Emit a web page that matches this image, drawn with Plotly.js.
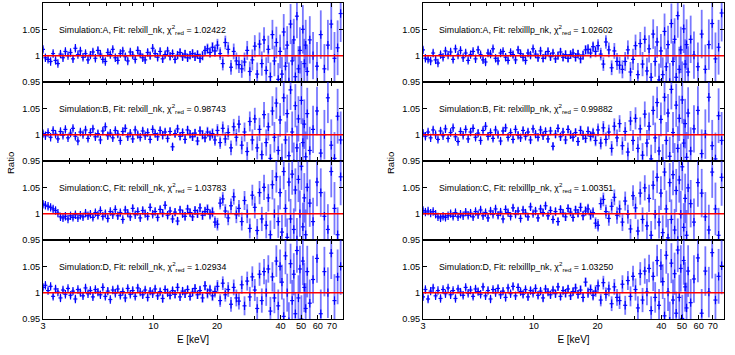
<!DOCTYPE html>
<html>
<head>
<meta charset="utf-8">
<script src="https://cdn.plot.ly/plotly-3.0.1.min.js"></script>
<style>
  body { margin: 0; background: #fff; }
  #chart { width: 735px; height: 355px; }
</style>
</head>
<body>
<div id="chart"></div>
<script>
// bin centre energies (keV), shared by all panels
var energy = [
  3.00, 3.08, 3.17, 3.26, 3.35, 3.44, 3.53, 3.63, 3.73, 3.83,
  3.94, 4.05, 4.16, 4.27, 4.39, 4.51, 4.64, 4.77, 4.90, 5.03,
  5.17, 5.31, 5.46, 5.61, 5.76, 5.92, 6.08, 6.25, 6.42, 6.60,
  6.78, 6.97, 7.16, 7.36, 7.56, 7.77, 7.98, 8.20, 8.43, 8.66,
  8.90, 9.14, 9.39, 9.65, 9.92, 10.19, 10.47, 10.76, 11.06, 11.36,
  11.67, 11.99, 12.32, 12.66, 13.01, 13.37, 13.74, 14.12, 14.51, 14.91,
  15.32, 15.74, 16.17, 16.62, 17.08, 17.55, 18.03, 18.53, 19.04, 19.56,
  20.1, 20.7, 21.3, 21.9, 22.6, 23.3, 24.0, 24.7,
  25.4, 26.2, 27.0, 27.8, 28.6, 29.4,
  30.2, 31.0, 31.8, 32.6, 33.4, 34.2,
  35.0, 35.8, 36.6, 37.4, 38.2, 39.0, 39.8,
  40.6, 41.4, 42.2, 43.0, 43.8, 44.6, 45.4, 46.2,
  47.0, 47.8, 48.6, 49.4, 50.2, 51.0, 51.8, 52.6, 53.5,
  55.0, 57.0, 59.5, 62.0, 64.5, 67.0, 69.5, 72.0, 74.5, 77.0
];

// 1-sigma error on the ratio
var ratioErr = [
  0.005, 0.005, 0.005, 0.004, 0.005, 0.005, 0.004, 0.005, 0.005, 0.005,
  0.004, 0.005, 0.005, 0.005, 0.004, 0.005, 0.005, 0.005, 0.005, 0.005,
  0.005, 0.005, 0.006, 0.005, 0.005, 0.005, 0.006, 0.005, 0.005, 0.005,
  0.006, 0.005, 0.005, 0.006, 0.005, 0.005, 0.006, 0.005, 0.006, 0.005,
  0.006, 0.005, 0.006, 0.006, 0.005, 0.006, 0.006, 0.006, 0.007, 0.006,
  0.006, 0.007, 0.006, 0.007, 0.007, 0.007, 0.007, 0.008, 0.007, 0.008,
  0.008, 0.008, 0.008, 0.009, 0.009, 0.009, 0.010, 0.010, 0.010, 0.011,
  0.012, 0.012, 0.013, 0.013, 0.014, 0.014, 0.015, 0.016,
  0.016, 0.017, 0.018, 0.018, 0.019, 0.020,
  0.021, 0.022, 0.022, 0.023, 0.024, 0.025,
  0.026, 0.027, 0.028, 0.029, 0.030, 0.031, 0.032,
  0.033, 0.034, 0.035, 0.036, 0.037, 0.038, 0.039, 0.040,
  0.041, 0.042, 0.043, 0.044, 0.045, 0.046, 0.047, 0.048, 0.049,
  0.045, 0.045, 0.046, 0.046, 0.047, 0.048, 0.049, 0.050, 0.052, 0.054
];

// data / model ratios, one array per panel
var ratioA_relxill = [
  1.012, 0.996, 0.993, 0.989, 1.004, 0.991, 0.985, 1.003, 0.996, 1.008,
  1.000, 1.006, 0.994, 1.014, 1.002, 1.009, 0.997, 1.004, 0.992, 1.001,
  1.007, 0.995, 1.010, 1.003, 0.993, 0.989, 1.006, 1.002, 1.012, 0.996,
  0.991, 1.004, 1.009, 0.998, 0.990, 1.007, 1.001, 0.993, 1.010, 1.003,
  0.996, 0.992, 1.006, 1.000, 1.014, 1.004, 0.997, 1.008, 0.994, 1.002,
  1.009, 0.999, 1.004, 0.993, 1.001, 1.006, 0.998, 1.003, 0.996, 1.001,
  1.004, 0.998, 1.002, 0.995, 1.000, 1.010, 1.013, 1.006, 1.016, 1.009,
  1.020, 1.004, 0.985, 1.025, 1.012, 0.978, 1.008, 0.990,
  0.983, 0.975, 0.988, 1.010, 0.970, 0.992,
  1.018, 0.965, 1.022, 0.985, 1.030, 0.972,
  1.012, 0.960, 1.040, 0.990, 1.025, 0.955, 1.008,
  0.965, 1.045, 0.980, 1.020, 0.950, 1.060, 0.990, 1.030,
  0.960, 1.075, 0.975, 1.010, 0.945, 1.050, 0.985, 1.020, 0.970,
  1.030, 1.000, 0.980, 1.040, 0.975, 1.020, 1.060, 0.995, 1.015, 1.080
];
var ratioB_relxill = [
  1.002, 0.998, 1.004, 0.995, 1.008, 1.001, 0.992, 1.006, 0.999, 1.010,
  0.994, 1.003, 1.012, 0.997, 0.988, 1.005, 1.000, 1.009, 0.993, 1.004,
  1.011, 0.996, 1.002, 0.990, 1.007, 1.015, 0.998, 1.003, 0.994, 1.008,
  1.001, 0.989, 1.006, 1.012, 0.996, 1.003, 0.992, 1.009, 1.000, 0.995,
  1.007, 0.998, 1.004, 0.991, 1.010, 1.002, 0.996, 1.008, 0.999, 1.005,
  0.993, 1.006, 0.977, 1.002, 1.011, 0.997, 1.004, 0.991, 1.009, 1.001,
  0.996, 1.003, 0.988, 1.007, 1.000, 0.994, 1.005, 0.998, 1.002, 0.990,
  1.008, 0.985, 1.012, 0.992, 1.004, 0.975, 1.015, 0.995,
  1.020, 0.980, 1.005, 0.968, 1.025, 0.990,
  1.030, 0.975, 1.010, 0.962, 1.038, 0.985,
  1.015, 0.955, 1.045, 0.995, 1.060, 0.970, 1.028,
  0.950, 1.070, 0.990, 1.040, 0.960, 1.085, 1.005, 0.945,
  1.055, 0.975, 1.030, 0.940, 1.065, 0.985, 1.020, 0.958, 1.040,
  0.970, 1.010, 1.045, 0.965, 1.000, 1.070, 0.980, 0.955, 1.035, 0.990
];
var ratioC_relxill = [
  1.018, 1.016, 1.014, 1.012, 1.009, 1.006, 1.001, 0.994, 0.992, 0.995,
  0.990, 0.996, 0.993, 0.998, 0.992, 0.997, 0.994, 1.001, 0.996, 0.999,
  0.993, 1.002, 0.997, 1.006, 0.995, 1.000, 0.991, 1.004, 0.998, 1.008,
  0.996, 1.002, 0.989, 1.007, 1.001, 0.994, 1.010, 0.998, 1.004, 0.992,
  1.006, 1.000, 0.995, 1.012, 0.999, 1.004, 0.993, 1.008, 1.001, 1.016,
  0.997, 1.005, 0.990, 1.003, 0.986, 1.007, 1.000, 0.995, 1.009, 1.002,
  0.994, 1.006, 1.000, 1.011, 0.997, 1.004, 1.008, 0.999, 1.003, 0.984,
  0.980, 1.020, 1.028, 1.005, 0.992, 1.015, 1.032, 0.998,
  1.010, 0.985, 1.025, 1.000, 0.972, 1.035,
  1.012, 0.968, 1.040, 0.990, 1.050, 0.978,
  1.030, 0.960, 1.055, 1.000, 1.070, 0.985, 1.040,
  0.965, 1.080, 1.010, 0.955, 1.060, 0.990, 1.075, 0.970,
  1.045, 0.950, 1.065, 1.000, 1.090, 0.975, 1.030, 0.960, 1.050,
  1.020, 0.985, 1.060, 1.040, 0.995, 0.970, 1.080, 1.010, 0.960, 1.070
];
var ratioD_relxill = [
  1.010, 1.014, 1.004, 1.012, 0.993, 1.007, 1.001, 0.990, 1.005, 0.997,
  1.008, 0.995, 1.003, 0.988, 1.006, 1.000, 0.994, 1.009, 0.998, 1.004,
  0.992, 1.006, 1.001, 0.996, 1.010, 0.993, 1.003, 0.987, 1.005, 0.999,
  1.007, 0.995, 1.002, 0.990, 1.008, 0.997, 1.004, 0.993, 1.009, 1.001,
  0.996, 1.005, 0.991, 1.003, 0.998, 1.007, 0.994, 1.002, 0.989, 1.006,
  1.000, 0.995, 1.004, 0.997, 1.010, 0.992, 1.003, 0.998, 1.006, 0.993,
  1.001, 1.008, 0.996, 1.004, 0.990, 1.013, 0.999, 1.005, 0.994, 1.002,
  1.012, 0.985, 1.018, 0.996, 1.006, 0.978, 1.010, 0.990,
  0.984, 1.015, 0.975, 1.022, 0.992, 1.030,
  1.005, 0.970, 1.035, 0.985, 1.040, 1.000,
  1.045, 0.965, 1.030, 0.990, 1.060, 0.975, 1.050,
  1.020, 0.955, 1.070, 1.000, 0.945, 1.055, 0.985, 1.035,
  0.960, 1.080, 0.990, 1.045, 0.950, 1.060, 1.010, 0.970, 1.040,
  0.980, 1.025, 1.065, 0.960, 1.040, 1.000, 1.075, 0.985, 1.030, 1.050
];
var ratioA_relxilllp = [
  1.011, 0.995, 0.993, 0.990, 1.005, 0.992, 0.986, 1.002, 0.997, 1.009,
  1.001, 1.007, 0.993, 1.013, 1.001, 1.010, 0.996, 1.005, 0.991, 1.002,
  1.008, 0.994, 1.011, 1.002, 0.992, 0.988, 1.005, 1.003, 1.013, 0.995,
  0.990, 1.005, 1.008, 0.997, 0.991, 1.006, 1.002, 0.992, 1.011, 1.004,
  0.997, 0.991, 1.005, 1.001, 1.013, 1.003, 0.996, 1.009, 0.995, 1.001,
  1.008, 0.998, 1.005, 0.994, 1.000, 1.007, 0.997, 1.002, 0.995, 1.002,
  1.005, 0.997, 1.003, 0.994, 1.001, 1.011, 1.012, 1.005, 1.017, 1.008,
  1.019, 1.003, 0.984, 1.026, 1.011, 0.977, 1.009, 0.989,
  0.982, 0.974, 0.989, 1.011, 0.969, 0.993,
  1.019, 0.964, 1.023, 0.984, 1.031, 0.971,
  1.013, 0.959, 1.041, 0.989, 1.026, 0.954, 1.009,
  0.964, 1.046, 0.979, 1.021, 0.949, 1.061, 0.989, 1.031,
  0.959, 1.076, 0.974, 1.011, 0.944, 1.051, 0.984, 1.021, 0.969,
  1.031, 1.001, 0.979, 1.041, 0.974, 1.021, 1.061, 0.994, 1.016, 1.081
];
var ratioB_relxilllp = [
  1.003, 0.997, 1.005, 0.994, 1.009, 1.000, 0.991, 1.007, 0.998, 1.011,
  0.993, 1.004, 1.013, 0.996, 0.987, 1.006, 0.999, 1.010, 0.992, 1.005,
  1.012, 0.995, 1.003, 0.989, 1.008, 1.016, 0.997, 1.004, 0.993, 1.009,
  1.000, 0.988, 1.007, 1.013, 0.995, 1.004, 0.991, 1.010, 0.999, 0.994,
  1.008, 0.997, 1.005, 0.990, 1.011, 1.001, 0.995, 1.009, 0.998, 1.006,
  0.992, 1.007, 0.978, 1.001, 1.012, 0.996, 1.005, 0.990, 1.010, 1.000,
  0.995, 1.004, 0.987, 1.008, 0.999, 0.993, 1.006, 0.997, 1.003, 0.989,
  1.009, 0.984, 1.013, 0.991, 1.005, 0.974, 1.016, 0.994,
  1.021, 0.979, 1.006, 0.967, 1.026, 0.989,
  1.031, 0.974, 1.011, 0.961, 1.039, 0.984,
  1.016, 0.954, 1.046, 0.994, 1.061, 0.969, 1.029,
  0.949, 1.071, 0.989, 1.041, 0.959, 1.086, 1.004, 0.944,
  1.056, 0.974, 1.031, 0.939, 1.066, 0.984, 1.021, 0.957, 1.041,
  0.969, 1.011, 1.046, 0.964, 1.001, 1.071, 0.979, 0.954, 1.036, 0.989
];
var ratioC_relxilllp = [
  1.006, 1.003, 1.005, 1.001, 1.004, 0.999, 0.994, 0.992, 0.995, 0.993,
  0.996, 1.000, 0.995, 1.002, 0.994, 0.999, 0.996, 1.003, 0.997, 1.001,
  0.994, 1.004, 0.998, 1.007, 0.996, 1.002, 0.992, 1.005, 0.999, 1.009,
  0.997, 1.003, 0.990, 1.008, 1.002, 0.995, 1.011, 0.999, 1.005, 0.991,
  1.007, 1.001, 0.994, 1.013, 1.000, 1.005, 0.992, 1.009, 1.002, 1.015,
  0.996, 1.006, 0.989, 1.004, 0.985, 1.008, 1.001, 0.994, 1.010, 1.003,
  0.993, 1.007, 1.001, 1.012, 0.996, 1.005, 1.009, 0.998, 1.002, 0.982,
  0.978, 1.019, 1.027, 1.004, 0.991, 1.014, 1.031, 0.997,
  1.009, 0.984, 1.024, 0.999, 0.971, 1.034,
  1.011, 0.967, 1.039, 0.989, 1.049, 0.977,
  1.029, 0.959, 1.054, 0.999, 1.069, 0.984, 1.039,
  0.964, 1.079, 1.009, 0.954, 1.059, 0.989, 1.074, 0.969,
  1.044, 0.949, 1.064, 0.999, 1.089, 0.974, 1.029, 0.959, 1.049,
  1.019, 0.984, 1.059, 1.039, 0.994, 0.969, 1.079, 1.009, 0.959, 1.069
];
var ratioD_relxilllp = [
  0.992, 1.006, 0.988, 1.003, 1.009, 0.994, 1.004, 0.989, 1.006, 0.998,
  1.009, 0.996, 1.004, 0.989, 1.007, 1.001, 0.995, 1.010, 0.999, 1.005,
  0.993, 1.007, 1.002, 0.997, 1.011, 0.994, 1.004, 0.988, 1.006, 1.000,
  1.008, 0.996, 1.003, 0.991, 1.009, 0.998, 1.012, 0.994, 1.010, 1.002,
  0.997, 1.006, 0.992, 1.004, 0.999, 1.008, 0.995, 1.003, 0.990, 1.007,
  1.001, 0.996, 1.005, 0.998, 1.011, 0.993, 1.004, 0.999, 1.007, 0.994,
  1.002, 1.009, 0.997, 1.005, 0.991, 1.020, 1.000, 1.006, 0.995, 1.003,
  1.013, 0.986, 1.019, 0.997, 1.007, 0.979, 1.011, 0.991,
  0.985, 1.016, 0.976, 1.023, 0.993, 1.031,
  1.006, 0.971, 1.036, 0.986, 1.041, 1.001,
  1.046, 0.966, 1.031, 0.991, 1.061, 0.976, 1.051,
  1.021, 0.956, 1.071, 1.001, 0.946, 1.056, 0.986, 1.036,
  0.961, 1.081, 0.991, 1.046, 0.951, 1.061, 1.011, 0.971, 1.041,
  0.981, 1.026, 1.066, 0.961, 1.041, 1.001, 1.076, 0.986, 1.031, 1.051
];

var simNames = ['A', 'B', 'C', 'D'];
var chi2Relxill = ['1.02422', '0.98743', '1.03783', '1.02934'];
var chi2Relxilllp = ['1.02602', '0.99882', '1.00351', '1.03250'];

var xTickVals = [3, 10, 20, 40, 50, 60, 70];
var xMinorVals = [4, 5, 6, 7, 8, 9, 30];

var panels = [
  {y: ratioA_relxill, col: 0, row: 0, fit: 'relxill_nk', chi: chi2Relxill[0]},
  {y: ratioB_relxill, col: 0, row: 1, fit: 'relxill_nk', chi: chi2Relxill[1]},
  {y: ratioC_relxill, col: 0, row: 2, fit: 'relxill_nk', chi: chi2Relxill[2]},
  {y: ratioD_relxill, col: 0, row: 3, fit: 'relxill_nk', chi: chi2Relxill[3]},
  {y: ratioA_relxilllp, col: 1, row: 0, fit: 'relxilllp_nk', chi: chi2Relxilllp[0]},
  {y: ratioB_relxilllp, col: 1, row: 1, fit: 'relxilllp_nk', chi: chi2Relxilllp[1]},
  {y: ratioC_relxilllp, col: 1, row: 2, fit: 'relxilllp_nk', chi: chi2Relxilllp[2]},
  {y: ratioD_relxilllp, col: 1, row: 3, fit: 'relxilllp_nk', chi: chi2Relxilllp[3]}
];

var W = 735, H = 355;
var colX = [[43, 343], [423, 724]];
var rowY = [[3, 82], [82, 161], [161, 240], [240, 319]];
var fontFamily = 'Liberation Sans, Arial, sans-serif';
var tickFont = {family: fontFamily, size: 9.2, color: '#000'};

var data = [];
var layout = {
  width: W, height: H,
  margin: {l: 0, r: 0, t: 0, b: 0},
  paper_bgcolor: '#fff', plot_bgcolor: '#fff',
  showlegend: false,
  font: tickFont,
  shapes: [],
  annotations: []
};

panels.forEach(function(p, i) {
  var n = i + 1;
  var xa = 'x' + n, ya = 'y' + n;
  data.push({
    x: energy, y: p.y,
    xaxis: xa, yaxis: ya,
    type: 'scatter', mode: 'markers',
    marker: {symbol: 'line-ns-open', size: 6, color: '#0000ff', line: {color: '#0000ff', width: 1.2}},
    error_y: {type: 'data', array: ratioErr, visible: true, color: 'rgba(30,30,255,0.6)', thickness: 1.8, width: 0},
    error_x: {type: 'percent', value: 2.2, visible: true, color: '#0a0aff', thickness: 1.2, width: 0},
    hoverinfo: 'x+y'
  });

  var cx = colX[p.col], ry = rowY[p.row];
  var bottom = p.row === 3;
  layout['xaxis' + n] = {
    domain: [cx[0] / W, cx[1] / W],
    anchor: ya,
    type: 'log',
    range: [Math.log10(3), Math.log10(79)],
    tickmode: 'array', tickvals: xTickVals, ticktext: xTickVals.map(String),
    tickangle: 0,
    ticks: 'inside', ticklen: 4, tickcolor: '#000',
    ticklabelstandoff: -2,
    minor: {tickmode: 'array', tickvals: xMinorVals, ticks: 'inside', ticklen: 3, tickcolor: '#000', showgrid: false},
    showticklabels: bottom,
    showline: true, linecolor: '#000', linewidth: 1, mirror: 'ticks',
    showgrid: false, zeroline: false,
    tickfont: tickFont,
    title: bottom ? {text: 'E [keV]', font: {family: fontFamily, size: 10}, standoff: 5} : {text: ''}
  };
  layout['yaxis' + n] = {
    domain: [1 - ry[1] / H, 1 - ry[0] / H],
    anchor: xa,
    range: [0.95, 1.1],
    tickmode: 'array', tickvals: [0.95, 1, 1.05], ticktext: ['0.95', '1', '1.05'],
    ticks: 'inside', ticklen: 4, tickcolor: '#000',
    showline: true, linecolor: '#000', linewidth: 1, mirror: 'ticks',
    showgrid: false, zeroline: false,
    tickfont: tickFont
  };

  layout.shapes.push({
    type: 'line', xref: xa + ' domain', yref: ya,
    x0: 0, x1: 1, y0: 1, y1: 1,
    line: {color: '#ff0000', width: 1.5}
  });

  layout.annotations.push({
    xref: xa + ' domain', yref: ya,
    x: 14 / 300, y: 1.05, xanchor: 'left', yanchor: 'middle',
    showarrow: false,
    text: 'Simulation:' + simNames[p.row] + ', Fit: ' + p.fit + ', χ<sup>2</sup><sub>red</sub> = ' + p.chi,
    font: {family: fontFamily, size: 8.8, color: '#000'}
  });
});

// y-axis titles, one per column
[10, 390].forEach(function(px) {
  layout.annotations.push({
    xref: 'paper', yref: 'paper',
    x: px / W, y: 1 - 163 / H,
    xanchor: 'center', yanchor: 'middle',
    textangle: -90, showarrow: false,
    text: 'Ratio',
    font: {family: fontFamily, size: 9.5, color: '#000'}
  });
});

Plotly.newPlot('chart', data, layout, {staticPlot: true});
</script>
</body>
</html>
